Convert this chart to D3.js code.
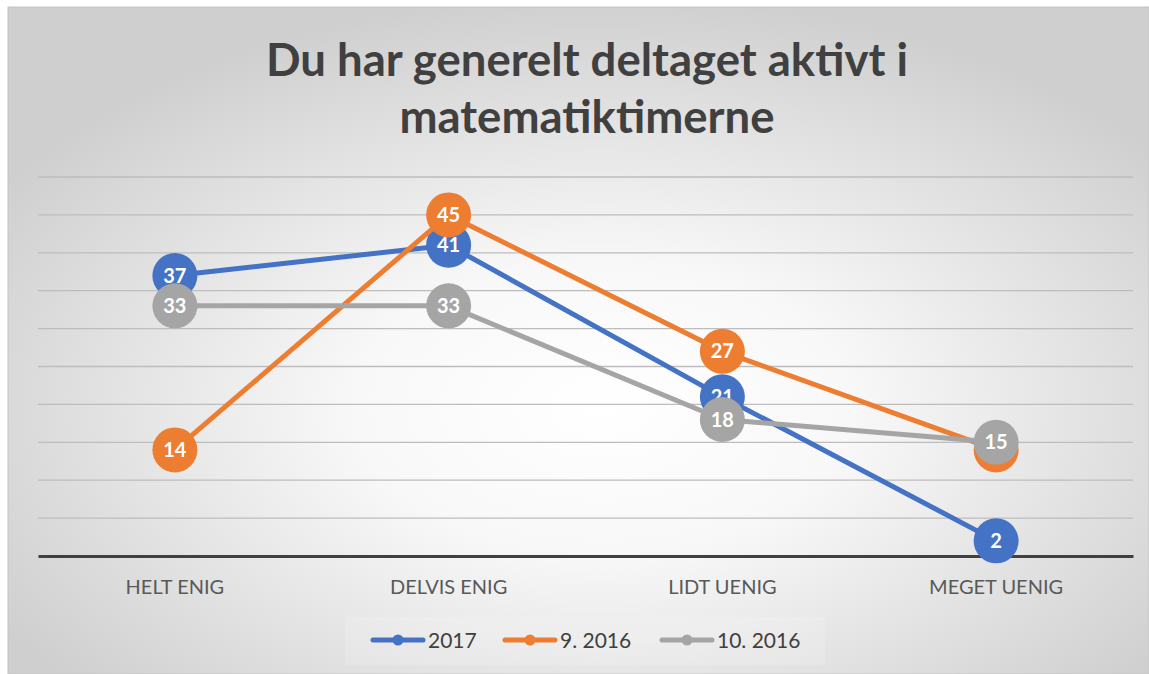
<!DOCTYPE html>
<html>
<head>
<meta charset="utf-8">
<script src="https://cdn.jsdelivr.net/npm/d3@7"></script>
<style>
  html, body { margin: 0; padding: 0; background: #fff; }
  svg { display: block; font-family: Lato, "Open Sans", sans-serif; }
</style>
</head>
<body>
<svg id="chart" width="1149" height="674"></svg>
<script>
// Chart data
const categories = ['HELT ENIG', 'DELVIS ENIG', 'LIDT UENIG', 'MEGET UENIG'];
const seriesNames = ['2017', '9. 2016', '10. 2016'];
const values2017 = [37, 41, 21, 2];
const values9_2016 = [14, 45, 27, 14];
const values10_2016 = [33, 33, 18, 15];
const yTicks = [0, 5, 10, 15, 20, 25, 30, 35, 40, 45, 50];
const titleLines = ['Du har generelt deltaget aktivt i', 'matematiktimerne'];

const colors = ['#4472c4', '#ed7d31', '#a5a5a5'];
const series = [values2017, values9_2016, values10_2016].map((vals, i) => ({
  name: seriesNames[i],
  color: colors[i],
  values: vals
}));

const svg = d3.select('#chart');

// Background with a soft radial gradient
const defs = svg.append('defs');
const grad = defs.append('radialGradient')
  .attr('id', 'bg')
  .attr('cx', '52%').attr('cy', '60%').attr('r', '62%');
grad.append('stop').attr('offset', '0%').attr('stop-color', '#ffffff');
grad.append('stop').attr('offset', '35%').attr('stop-color', '#f8f8f8');
grad.append('stop').attr('offset', '100%').attr('stop-color', '#cfcfcf');

svg.append('rect')
  .attr('x', 8).attr('y', 7)
  .attr('width', 1141).attr('height', 667)
  .attr('fill', 'url(#bg)')
  .attr('stroke', '#c4c4c4')
  .attr('stroke-width', 1);

// Title
svg.append('g').selectAll('text')
  .data(titleLines)
  .enter().append('text')
  .attr('x', 587)
  .attr('y', (d, i) => 76 + i * 57)
  .attr('text-anchor', 'middle')
  .style('font-size', '45.5px')
  .style('font-weight', 'bold')
  .style('fill', '#404040')
  .text(d => d);

// Scales
const x = d3.scaleBand()
  .domain(categories)
  .range([38, 1133]);

const y = d3.scaleLinear()
  .domain([0, 50])
  .range([556, 177]);

// Gridlines
svg.append('g').selectAll('line')
  .data(yTicks.filter(d => d > 0))
  .enter().append('line')
  .attr('x1', 38).attr('x2', 1133)
  .attr('y1', d => y(d)).attr('y2', d => y(d))
  .style('stroke', '#bdbdbd')
  .style('stroke-width', 1.3);

// X axis (baseline + category labels)
const xAxis = svg.append('g')
  .attr('transform', `translate(0,${y(0)})`)
  .call(d3.axisBottom(x).tickSize(0).tickPadding(24));
xAxis.select('.domain')
  .style('stroke', '#404040')
  .style('stroke-width', 3);
xAxis.selectAll('text')
  .style('font-family', 'Lato, "Open Sans", sans-serif')
  .style('font-size', '20px')
  .style('fill', '#595959');

// Lines, markers and labels
const line = d3.line()
  .x((d, i) => x(categories[i]) + x.bandwidth() / 2)
  .y(d => y(d));

series.forEach(s => {
  const g = svg.append('g');
  g.append('path')
    .datum(s.values)
    .attr('d', line)
    .style('fill', 'none')
    .style('stroke', s.color)
    .style('stroke-width', 5)
    .style('stroke-linejoin', 'round');

  g.selectAll('circle')
    .data(s.values)
    .enter().append('circle')
    .attr('cx', (d, i) => x(categories[i]) + x.bandwidth() / 2)
    .attr('cy', d => y(d))
    .attr('r', 22.5)
    .style('fill', s.color);

  g.selectAll('text')
    .data(s.values)
    .enter().append('text')
    .attr('x', (d, i) => x(categories[i]) + x.bandwidth() / 2)
    .attr('y', d => y(d) + 7)
    .attr('text-anchor', 'middle')
    .style('font-size', '20px')
    .style('font-weight', 'bold')
    .style('fill', '#ffffff')
    .text(d => d);
});

// Legend
svg.append('rect')
  .attr('x', 345).attr('y', 617)
  .attr('width', 480).attr('height', 48)
  .style('fill', '#ffffff')
  .style('opacity', 0.15);

const legendX = [373, 505, 662];
const legend = svg.append('g').selectAll('g')
  .data(series)
  .enter().append('g')
  .attr('transform', (d, i) => `translate(${legendX[i]},640)`);

legend.append('line')
  .attr('x1', 0).attr('x2', 50)
  .attr('y1', 0).attr('y2', 0)
  .style('stroke', d => d.color)
  .style('stroke-width', 5)
  .style('stroke-linecap', 'round');

legend.append('circle')
  .attr('cx', 25).attr('cy', 0).attr('r', 5.5)
  .style('fill', d => d.color);

legend.append('text')
  .attr('x', 55)
  .attr('y', 7.5)
  .style('font-size', '21px')
  .style('fill', '#404040')
  .text(d => d.name);
</script>
</body>
</html>
